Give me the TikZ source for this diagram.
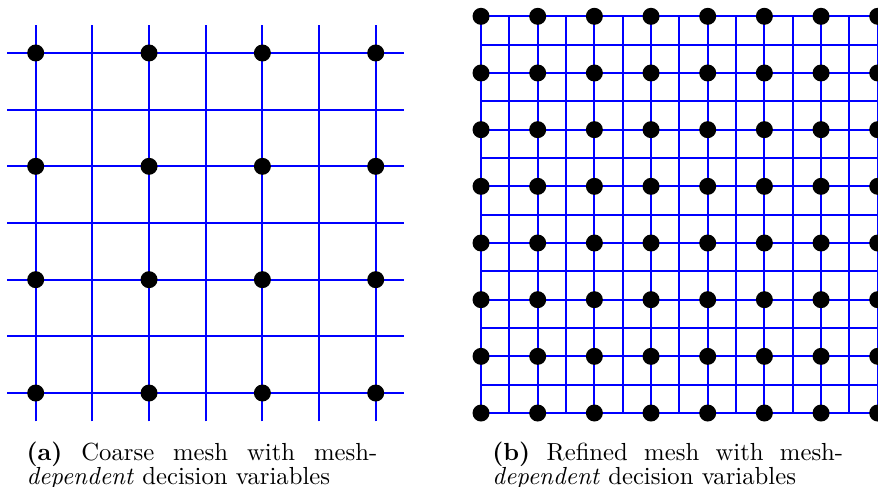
\documentclass[tikz,border=0pt]{standalone}
\tikzset{
  meshline/.style={blue,line width=0.8pt},
  capbox/.style={anchor=base west, text width=142pt, align=justify, inner sep=0pt,
    font=\fontsize{10}{9.8}\selectfont}
}
\begin{document}
\begin{tikzpicture}[x=22.94pt,y=22.94pt]
    \useasboundingbox (-0.630,-1.641) rectangle (14.863,6.935);
    % coarse mesh
    \draw[meshline,step=1] (-0.5,-0.5) grid (6.5,6.5);
    \foreach \i in {0,2,4,6}
        \foreach \j in {0,2,4,6}
            \fill (\i,\j) circle (0.15);
    % refined mesh
    \begin{scope}[shift={(7.858,-0.353)}]
        \draw[meshline,step=0.5] (0,0) grid (7,7);
        \foreach \i in {0,...,7}
            \foreach \j in {0,...,7}
                \fill (\i,\j) circle (0.15);
    \end{scope}
    \node[capbox] (capa) at (-0.171,-1.186) {\textbf{(a)} Coarse mesh with mesh-\emph{dependent} decision variables};
    \node[capbox] (capb) at (8.05,-1.186) {\textbf{(b)} Refined mesh with mesh-\emph{dependent} decision variables};
\end{tikzpicture}
\end{document}
